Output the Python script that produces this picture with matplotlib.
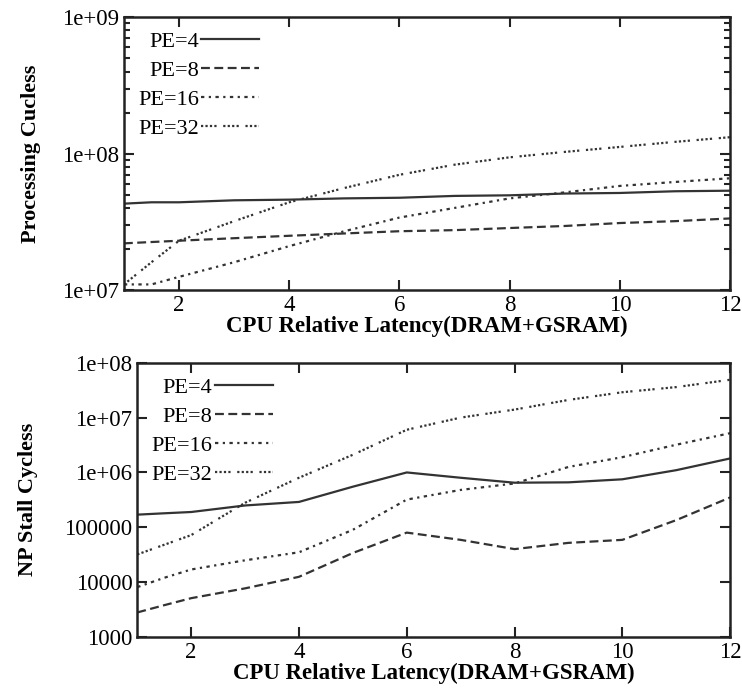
import matplotlib
matplotlib.use('Agg')
import matplotlib.pyplot as plt
from matplotlib.ticker import LogLocator, FixedLocator, FuncFormatter, NullFormatter

plt.rcParams['font.family'] = ['Liberation Serif', 'DejaVu Serif']

# x = CPU relative latency
latency = [1, 1.5, 2, 3, 4, 5, 6, 7, 8, 9, 10, 11, 12]

# processing cycles (top)
proc_pe4 = [4.3e7, 4.4e7, 4.4e7, 4.55e7, 4.6e7, 4.7e7, 4.75e7, 4.9e7, 4.95e7, 5.1e7, 5.15e7, 5.3e7, 5.35e7]
proc_pe8 = [2.2e7, 2.25e7, 2.3e7, 2.4e7, 2.5e7, 2.6e7, 2.7e7, 2.75e7, 2.85e7, 2.95e7, 3.1e7, 3.2e7, 3.35e7]
proc_pe16 = [1.1e7, 1.1e7, 1.25e7, 1.6e7, 2.1e7, 2.7e7, 3.4e7, 4.0e7, 4.7e7, 5.2e7, 5.8e7, 6.2e7, 6.6e7]
proc_pe32 = [1.1e7, 1.6e7, 2.3e7, 3.2e7, 4.4e7, 5.6e7, 7.0e7, 8.3e7, 9.4e7, 1.03e8, 1.12e8, 1.22e8, 1.32e8]

# NP stall cycles (bottom)
stall_pe4 = [1.7e5, 1.8e5, 1.9e5, 2.5e5, 2.9e5, 5.5e5, 1.0e6, 8.0e5, 6.5e5, 6.6e5, 7.5e5, 1.1e6, 1.8e6]
stall_pe8 = [2.8e3, 3.8e3, 5.1e3, 7.7e3, 1.25e4, 3.4e4, 8.0e4, 5.9e4, 4.0e4, 5.2e4, 5.9e4, 1.35e5, 3.5e5]
stall_pe16 = [8.1e3, 1.2e4, 1.7e4, 2.5e4, 3.5e4, 9.0e4, 3.2e5, 4.8e5, 6.3e5, 1.26e6, 1.9e6, 3.2e6, 5.2e6]
stall_pe32 = [3.2e4, 4.8e4, 7.2e4, 2.8e5, 8.0e5, 2.1e6, 6.0e6, 1.0e7, 1.4e7, 2.1e7, 2.9e7, 3.6e7, 4.9e7]

labels = ['PE=4', 'PE=8', 'PE=16', 'PE=32']
styles = ['-', (0, (4, 2)), (0, (1.5, 2, 1, 2)), (0, (1, 1, 1, 1, 1, 1, 1, 3))]
col = '#333333'

top_ticks = [1e7, 1e8, 1e9]
top_ticklabels = ['1e+07', '1e+08', '1e+09']
bot_ticks = [1e3, 1e4, 1e5, 1e6, 1e7, 1e8]
bot_ticklabels = ['1000', '10000', '100000', '1e+06', '1e+07', '1e+08']

fig = plt.figure(figsize=(7.42, 6.89), dpi=100)
ax1 = fig.add_axes([0.167, 0.579, 0.817, 0.396])
ax2 = fig.add_axes([0.185, 0.0755, 0.799, 0.398])


def style_axis(ax, series, ticks, ticklabels, ylim, ylabel, lpad):
    for s, lab, ls in zip(series, labels, styles):
        ax.plot(latency, s, color=col, linestyle=ls, linewidth=1.6, label=lab)
    ax.set_yscale('log')
    ax.set_xlim(1, 12)
    ax.set_ylim(*ylim)
    ax.set_xticks([2, 4, 6, 8, 10, 12])
    ax.set_xticklabels(['2', '4', '6', '8', '10', '12'])
    ax.yaxis.set_major_locator(FixedLocator(ticks))
    ax.yaxis.set_major_formatter(FuncFormatter(lambda v, p: ticklabels[ticks.index(v)] if v in ticks else ''))
    ax.yaxis.set_minor_locator(LogLocator(base=10, subs=range(2, 10)))
    ax.yaxis.set_minor_formatter(NullFormatter())
    ax.tick_params(which='both', direction='in', top=True, right=True, labelsize=16.5, width=1.5, color='#222222')
    ax.tick_params(which='major', length=7)
    ax.tick_params(which='minor', length=4)
    for sp in ax.spines.values():
        sp.set_linewidth(1.8)
        sp.set_color('#222222')
    ax.set_xlabel('CPU Relative Latency(DRAM+GSRAM)', fontsize=16.5, fontweight='bold', labelpad=0)
    ax.set_ylabel(ylabel, fontsize=16, fontweight='bold', labelpad=lpad)
    leg = ax.legend(loc='upper left', markerfirst=False, frameon=False, fontsize=16,
                    handlelength=2.6, handletextpad=0.1, labelspacing=0.38,
                    borderaxespad=0.25, bbox_to_anchor=(0.0, 1.0))
    for t in leg.get_texts():
        t.set_ha('right')


style_axis(ax1, [proc_pe4, proc_pe8, proc_pe16, proc_pe32], top_ticks, top_ticklabels,
           (1e7, 1e9), 'Processing Cucless', 15)
style_axis(ax2, [stall_pe4, stall_pe8, stall_pe16, stall_pe32], bot_ticks, bot_ticklabels,
           (1e3, 1e8), 'NP Stall Cycless', 19)

fig.savefig('out.png', dpi=100)
